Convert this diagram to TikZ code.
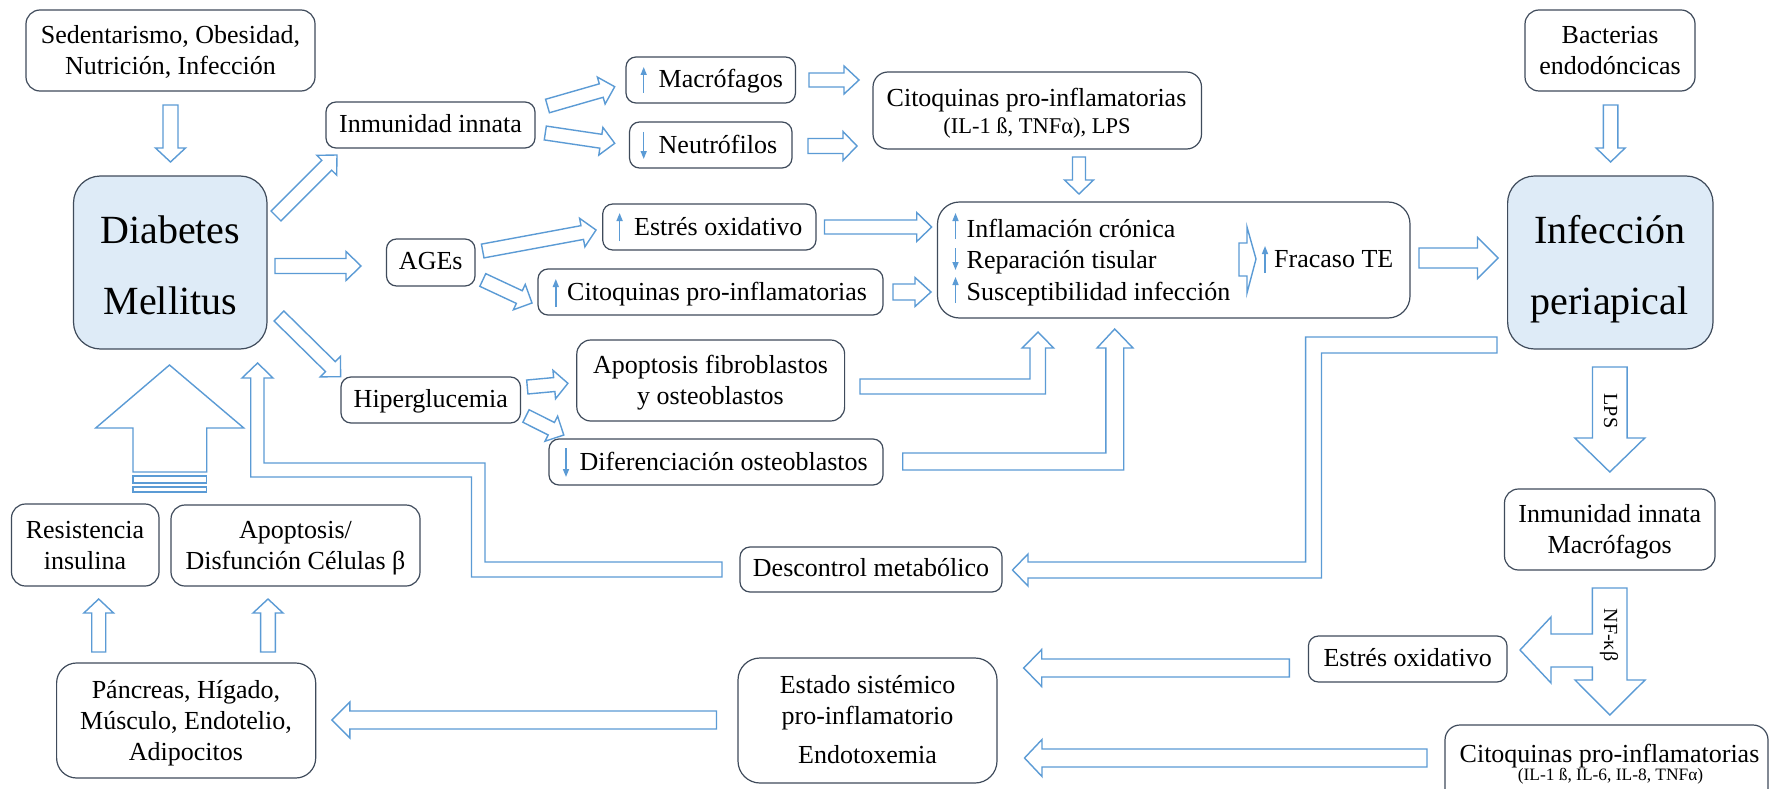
\documentclass[tikz,border=0pt]{standalone}
\usepackage{fontspec}
\setmainfont{Liberation Serif}
\usetikzlibrary{calc,arrows.meta}
\definecolor{ablue}{HTML}{5B9BD5}
\definecolor{bline}{HTML}{3F4B5B}
\definecolor{dmfill}{HTML}{DEEBF7}
\newcommand{\barr}[5]{%
 \draw[blk] let \p1=(#1), \p2=(#2), \p3=($(#2)!#5pt!(#1)$) in
 ($(\p1)!#3pt!90:(\p2)$) -- ($(\p3)!#3pt!-90:(\p1)$) -- ($(\p3)!#4pt!-90:(\p1)$) -- (\p2) -- ($(\p3)!#4pt!90:(\p1)$) -- ($(\p3)!#3pt!90:(\p1)$) -- ($(\p1)!#3pt!-90:(\p2)$) -- cycle;}
\begin{document}
\begin{tikzpicture}[x=1pt,y=-1pt,
 bx/.style={draw=bline, line width=1.2pt, rounded corners=#1, inner sep=0pt},
 bx/.default=10pt,
 t26/.style={font=\fontsize{26}{31}\selectfont, text height=18.2pt, text depth=3.6pt, inner sep=0pt},
 ml/.style={font=\fontsize{26}{31}\selectfont, align=center, inner sep=0pt},
 big/.style={font=\fontsize{40}{71}\selectfont, align=center, inner sep=0pt},
 blk/.style={draw=ablue, line width=1.4pt, fill=white},
 sarr/.style={draw=ablue, line width=1.5pt, -{Triangle[length=8pt,width=6pt]}},
 lab/.style={font=\fontsize{20}{20}\selectfont, rotate=-90, inner sep=0pt, text height=14pt, text depth=2.8pt}
]
\fill[white] (0,0) rectangle (1771,789);
\useasboundingbox (0,0) rectangle (1771,789);

% ---------- boxes ----------
\node[bx=14pt, minimum width=289pt, minimum height=81pt] (sed) at (170.5,50.5) {};
\node[ml] (sedt) at (170.5,52.6) {\strut Sedentarismo, Obesidad,\\\strut Nutrición, Infección};

\node[bx=27pt, fill=dmfill, minimum width=193.5pt, minimum height=173pt] (dm) at (170.25,262.5) {};
\node[big] (dmt) at (170.25,264.5) {\strut Diabetes\\\strut Mellitus};

\node[bx, minimum width=209pt, minimum height=46pt, t26] (inm) at (430.5,125) {Inmunidad innata};
\node[bx, minimum width=88.5pt, minimum height=47pt, t26] (ages) at (430.75,262.5) {AGEs};
\node[bx, minimum width=179.5pt, minimum height=46pt, t26] (hip) at (430.75,400) {Hiperglucemia};

\node[bx, minimum width=169.5pt, minimum height=46pt] (mac) at (710.75,80) {};
\node[t26, anchor=west] (mact) at (658.5,80) {Macrófagos};
\node[bx, minimum width=162.5pt, minimum height=46pt] (neu) at (710.75,145) {};
\node[t26, anchor=west] (neut) at (658.5,146) {Neutrófilos};

\node[bx=15pt, minimum width=328.5pt, minimum height=77pt] (cit1) at (1037.25,110.5) {};
\node[t26] (cit1a) at (1036.5,99) {Citoquinas pro-inflamatorias};
\node[font=\fontsize{22.5}{27}\selectfont, text height=15.75pt, text depth=3.15pt, inner sep=0pt] (cit1b) at (1037,127) {(IL-1 ß, TNFα), LPS};

\node[bx, minimum width=213.3pt, minimum height=46pt] (est1) at (709.35,227) {};
\node[t26, anchor=west] (est1t) at (634,228) {Estrés oxidativo};
\node[bx, minimum width=345pt, minimum height=46pt] (cit2) at (710.5,292) {};
\node[t26, anchor=west] (cit2t) at (567,293) {Citoquinas pro-inflamatorias};

\node[bx=22pt, minimum width=472.5pt, minimum height=116pt] (infl) at (1173.75,260) {};
\node[ml, font=\fontsize{26}{31.5}\selectfont, align=left, anchor=west] (inflt) at (966.5,262.5) {\strut Inflamación crónica\\\strut Reparación tisular\\\strut Susceptibilidad infección};
\node[t26, anchor=west] (frac) at (1274,260) {Fracaso TE};

\node[bx=14pt, minimum width=170pt, minimum height=81pt] (bac) at (1610,50.5) {};
\node[ml] (bact) at (1610,52.6) {\strut Bacterias\\\strut endodóncicas};

\node[bx=27pt, fill=dmfill, minimum width=205.4pt, minimum height=173pt] (inf) at (1610.3,262.5) {};
\node[big] (inft) at (1609.7,264.5) {\strut Infección\\\strut periapical};

\node[bx=14pt, minimum width=267.8pt, minimum height=81pt] (apf) at (710.7,380.5) {};
\node[ml] (apft) at (710.5,383) {\strut Apoptosis fibroblastos\\\strut y osteoblastos};
\node[bx, minimum width=334pt, minimum height=46pt] (dif) at (716,462) {};
\node[t26, anchor=west] (dift) at (579.5,463) {Diferenciación osteoblastos};

\node[bx, minimum width=262pt, minimum height=45pt, t26] (des) at (871,569.5) {Descontrol metabólico};

\node[bx=14pt, minimum width=147.5pt, minimum height=82pt] (res) at (85.25,545) {};
\node[ml] (rest) at (85,548) {\strut Resistencia\\\strut insulina};
\node[bx=14pt, minimum width=249pt, minimum height=81pt] (apo) at (295.5,545.5) {};
\node[ml] (apot) at (295.5,548) {\strut Apoptosis/\\\strut Disfunción Células β};

\node[bx=20pt, minimum width=259.1pt, minimum height=115pt] (pan) at (186.15,720.5) {};
\node[ml] (pant) at (186,723.5) {\strut Páncreas, Hígado,\\\strut Músculo, Endotelio,\\\strut Adipocitos};

\node[bx=22pt, minimum width=259pt, minimum height=125pt] (esd) at (867.5,720.5) {};
\node[ml] (esdt) at (867.5,722.1) {\strut Estado sistémico\\\strut pro-inflamatorio\\[8pt]\strut Endotoxemia};

\node[bx, minimum width=198.6pt, minimum height=46pt, t26] (est2) at (1407.7,659) {Estrés oxidativo};

\node[bx=14pt, minimum width=210.5pt, minimum height=81pt] (inm2) at (1609.75,529.5) {};
\node[ml] (inm2t) at (1609.75,531.6) {\strut Inmunidad innata\\\strut Macrófagos};

\node[bx=15pt, minimum width=323pt, minimum height=80pt] (cit3) at (1606.5,765) {};
\node[t26] (cit3a) at (1609.5,755) {Citoquinas pro-inflamatorias};
\node[font=\fontsize{17.4}{20}\selectfont, text height=12.2pt, text depth=2.4pt, inner sep=0pt] (cit3b) at (1610.5,776) {(IL-1 ß, IL-6, IL-8, TNFα)};

% ---------- small arrows inside boxes ----------
\draw[sarr] (643.7,93) -- (643.7,67);
\draw[sarr] (643.7,132) -- (643.7,159);
\draw[sarr] (619.6,241) -- (619.6,213);
\draw[sarr] (555.8,307) -- (555.8,279);
\draw[sarr] (955.5,239) -- (955.5,213);
\draw[sarr] (955.5,248) -- (955.5,270);
\draw[sarr] (955.5,303) -- (955.5,277);
\draw[sarr] (1265,273) -- (1265,246);
\draw[sarr] (566,448) -- (566,477);

% ---------- block arrow end points ----------
\coordinate (s1) at (170.5,105);  \coordinate (e1) at (170.5,162);
\coordinate (s2) at (1610.6,105); \coordinate (e2) at (1610.6,162);
\coordinate (s3) at (276,216);    \coordinate (e3) at (337,155);
\coordinate (s4) at (275,266);    \coordinate (e4) at (361,266);
\coordinate (s5) at (279,316);    \coordinate (e5) at (340.6,376.7);
\coordinate (s6) at (547.5,106);  \coordinate (e6) at (614.7,86.7);
\coordinate (s7) at (545.3,133);  \coordinate (e7) at (614.7,143.3);
\coordinate (s8) at (809,80);     \coordinate (e8) at (859,80);
\coordinate (s9) at (808,146);    \coordinate (e9) at (857,146);
\coordinate (s10) at (1079,157);  \coordinate (e10) at (1079,194);
\coordinate (s11) at (482.7,251); \coordinate (e11) at (596,230);
\coordinate (s12) at (482.8,280); \coordinate (e12) at (532,303);
\coordinate (s13) at (824.5,227); \coordinate (e13) at (931.7,227);
\coordinate (s14) at (893,292);   \coordinate (e14) at (931,292);
\coordinate (s15) at (1419,258);  \coordinate (e15) at (1498,258);
\coordinate (s16) at (527.3,387); \coordinate (e16) at (567.9,383.3);
\coordinate (s17) at (526,416);   \coordinate (e17) at (563.8,435);
\coordinate (s18) at (98.7,652);  \coordinate (e18) at (98.7,599);
\coordinate (s19) at (268,652);   \coordinate (e19) at (268,599);
\coordinate (s20) at (716.5,720); \coordinate (e20) at (331.8,720);
\coordinate (s21) at (1289.4,668);\coordinate (e21) at (1023.7,668);
\coordinate (s22) at (1427,758);  \coordinate (e22) at (1024.5,758);
\coordinate (s23) at (1609.8,367);\coordinate (e23) at (1609.8,472);

\barr{s1}{e1}{7.5}{15}{14}
\barr{s2}{e2}{7.3}{14.5}{14}
\barr{s3}{e3}{7}{14}{14.5}
\barr{s4}{e4}{7.5}{14.5}{15}
\barr{s5}{e5}{7}{14.4}{14.4}
\barr{s6}{e6}{7}{14}{14}
\barr{s7}{e7}{7}{14}{14}
\barr{s8}{e8}{7}{14}{15}
\barr{s9}{e9}{7.5}{14.5}{14}
\barr{s10}{e10}{6.5}{14.5}{14}
\barr{s11}{e11}{7}{14.5}{14}
\barr{s12}{e12}{7}{14}{14}
\barr{s13}{e13}{7}{14.5}{15}
\barr{s14}{e14}{8}{14.5}{16}
\barr{s15}{e15}{10}{20.5}{20.5}
\barr{s16}{e16}{7}{14.3}{13.7}
\barr{s17}{e17}{7}{14}{14}
\barr{s18}{e18}{7}{14.85}{14}
\barr{s19}{e19}{7.4}{15}{14}
\barr{s20}{e20}{9}{18}{18}
\barr{s21}{e21}{9}{18.5}{18}
\barr{s22}{e22}{9}{18.5}{17.5}
\barr{s23}{e23}{17.3}{35}{34}

% ---------- bent arrows ----------
\draw[blk] (860,379) -- (1030,379) -- (1030,348) -- (1022,348) -- (1038,332) -- (1053.6,348) -- (1045.5,348) -- (1045.5,394) -- (860,394) -- cycle;
\draw[blk] (902.7,453) -- (1105.8,453) -- (1105.8,348) -- (1097,348) -- (1114.7,329) -- (1133,348) -- (1123.7,348) -- (1123.7,470) -- (902.7,470) -- cycle;
\draw[blk] (1012.5,570) -- (1028,554) -- (1028,562) -- (1305.6,562) -- (1305.6,337) -- (1497,337) -- (1497,353) -- (1321.5,353) -- (1321.5,578) -- (1028,578) -- (1028,586) -- cycle;
\draw[blk] (722,562) -- (485,562) -- (485,463) -- (264,463) -- (264,378) -- (273,378) -- (257.6,363) -- (242,378) -- (250.7,378) -- (250.7,477) -- (471.5,477) -- (471.5,577) -- (722,577) -- cycle;
% big up arrow
\draw[blk] (169.5,365) -- (243.8,428) -- (206.7,428) -- (206.7,472) -- (133,472) -- (133,428) -- (95.7,428) -- cycle;
\draw[blk] (133,476) rectangle (206.7,483);
\draw[blk] (133,487) rectangle (206.7,492);
% NF-kB split arrow
\draw[blk] (1592.4,588) -- (1627,588) -- (1627,680) -- (1645,680) -- (1609.8,715) -- (1575,680) -- (1592.4,680) -- (1592.4,667) -- (1551,667) -- (1551,683) -- (1520,650) -- (1551,617) -- (1551,634) -- (1592.4,634) -- cycle;
% small chevron inside Inflamacion box
\draw[blk] (1239,243) -- (1247,243) -- (1247,227) -- (1256,259) -- (1247,293) -- (1247,276) -- (1239,276) -- cycle;

\node[lab] (lps) at (1609.8,411) {LPS};
\node[lab] (nfkb) at (1609.8,635) {NF-κβ};
\end{tikzpicture}
\end{document}
